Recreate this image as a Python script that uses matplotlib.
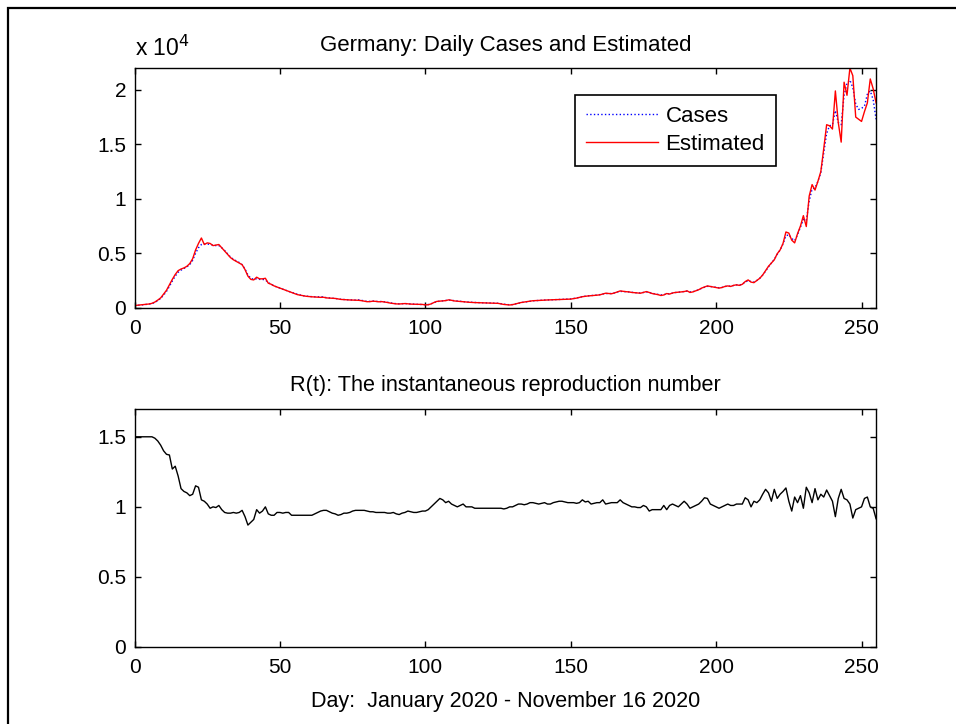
import matplotlib
matplotlib.use('Agg')
import matplotlib.pyplot as plt
from matplotlib.patches import Rectangle
import numpy as np

plt.rcParams['font.family'] = ['Liberation Sans', 'DejaVu Sans']
plt.rcParams['font.size'] = 15

# daily estimates (model output), day 0..255
estimated = [
    200, 230, 260, 290, 310, 340, 400, 520, 700, 900,
    1250, 1600, 2100, 2600, 3050, 3400, 3550, 3650, 3800, 4050,
    4500, 5300, 5900, 6400, 5800, 5950, 5900, 5700, 5750, 5800,
    5500, 5200, 4900, 4600, 4400, 4250, 4100, 3950, 3500, 2900,
    2600, 2550, 2800, 2650, 2650, 2700, 2250, 2150, 2000, 1900,
    1800, 1700, 1600, 1500, 1400, 1300, 1200, 1150, 1100, 1050,
    1020, 1000, 980, 960, 950, 960, 900, 880, 870, 850,
    800, 760, 740, 720, 710, 700, 690, 680, 650, 600,
    550, 560, 600, 580, 540, 560, 520, 480, 420, 380,
    350, 340, 360, 380, 350, 330, 320, 300, 290, 300,
    260, 270, 350, 480, 580, 600, 620, 650, 720, 680,
    620, 600, 580, 550, 520, 500, 480, 470, 460, 450,
    440, 430, 420, 420, 410, 400, 350, 300, 270, 250,
    280, 350, 420, 480, 520, 550, 600, 640, 650, 660,
    680, 700, 710, 720, 720, 730, 740, 750, 770, 780,
    790, 830, 880, 950, 1010, 1050, 1080, 1100, 1120, 1150,
    1180, 1250, 1330, 1300, 1280, 1350, 1450, 1540, 1500, 1470,
    1450, 1400, 1380, 1350, 1330, 1400, 1480, 1400, 1300, 1250,
    1200, 1120, 1170, 1300, 1250, 1350, 1400, 1420, 1450, 1480,
    1550, 1400, 1450, 1550, 1650, 1800, 1900, 2000, 1950, 1900,
    1850, 1800, 1850, 1950, 2000, 1950, 2050, 2100, 2050, 2150,
    2400, 2550, 2350, 2300, 2500, 2700, 3000, 3400, 3800, 4100,
    4400, 4950, 5300, 5900, 6950, 6850, 6200, 5950, 6800, 7500,
    8450, 7450, 10250, 11300, 10800, 11600, 12500, 14600, 16800, 16700,
    16400, 19900, 17000, 15200, 20700, 19500, 22000, 21300, 17500, 17300,
    17100, 18000, 18800, 21000, 20100, 18800,
]

# reported daily cases
cases = [
    180, 210, 240, 270, 300, 330, 380, 480, 650, 850,
    1150, 1500, 1950, 2450, 2900, 3250, 3450, 3600, 3750, 3950,
    4350, 5000, 5500, 5800, 5850, 5850, 5800, 5750, 5700, 5700,
    5500, 5250, 4950, 4650, 4450, 4300, 4150, 3950, 3550, 3000,
    2700, 2600, 2650, 2600, 2600, 2550, 2300, 2150, 2000, 1900,
    1800, 1700, 1600, 1500, 1420, 1320, 1230, 1160, 1100, 1060,
    1030, 1020, 1000, 990, 1020, 980, 920, 890, 870, 850,
    810, 770, 750, 730, 720, 710, 700, 720, 680, 620,
    570, 580, 610, 590, 560, 570, 540, 490, 440, 400,
    370, 360, 370, 380, 360, 340, 330, 310, 300, 300,
    280, 290, 360, 470, 560, 600, 630, 660, 700, 690,
    640, 610, 590, 560, 530, 510, 490, 480, 470, 460,
    450, 440, 430, 425, 415, 405, 370, 320, 290, 270,
    290, 350, 410, 470, 510, 550, 590, 630, 650, 660,
    680, 700, 710, 720, 725, 735, 745, 755, 770, 780,
    800, 840, 890, 960, 1020, 1060, 1090, 1110, 1130, 1160,
    1200, 1260, 1300, 1300, 1300, 1360, 1440, 1500, 1490, 1470,
    1450, 1410, 1380, 1360, 1350, 1390, 1440, 1400, 1320, 1270,
    1220, 1170, 1190, 1280, 1280, 1340, 1390, 1420, 1450, 1490,
    1520, 1450, 1470, 1550, 1650, 1780, 1880, 1960, 1950, 1910,
    1870, 1830, 1860, 1940, 1990, 1970, 2040, 2090, 2080, 2160,
    2350, 2480, 2400, 2350, 2500, 2700, 3000, 3350, 3750, 4100,
    4450, 4900, 5300, 5850, 6600, 6700, 6350, 6150, 6700, 7400,
    8100, 8000, 9800, 10900, 11000, 11600, 12400, 14200, 16000, 16700,
    16800, 18100, 17000, 16800, 19500, 20600, 20900, 20200, 18700, 18200,
    18300, 18500, 19600, 19900, 19100, 17300,
]

# instantaneous reproduction number R(t)
rt = [
    1.50, 1.50, 1.50, 1.50, 1.50, 1.50, 1.50, 1.49, 1.47, 1.44,
    1.40, 1.375, 1.37, 1.27, 1.29, 1.22, 1.13, 1.11, 1.10, 1.08,
    1.09, 1.15, 1.14, 1.05, 1.04, 1.02, 0.99, 1.00, 0.995, 1.01,
    0.98, 0.96, 0.955, 0.955, 0.96, 0.955, 0.96, 0.975, 0.93, 0.87,
    0.89, 0.91, 0.98, 0.955, 0.97, 1.00, 0.95, 0.94, 0.94, 0.96,
    0.96, 0.955, 0.96, 0.96, 0.94, 0.94, 0.94, 0.94, 0.94, 0.94,
    0.94, 0.94, 0.95, 0.96, 0.97, 0.975, 0.975, 0.965, 0.955, 0.95,
    0.94, 0.945, 0.955, 0.955, 0.96, 0.97, 0.975, 0.975, 0.975, 0.975,
    0.97, 0.965, 0.965, 0.96, 0.96, 0.96, 0.96, 0.955, 0.955, 0.96,
    0.95, 0.945, 0.955, 0.96, 0.97, 0.965, 0.96, 0.96, 0.965, 0.97,
    0.97, 0.98, 1.00, 1.02, 1.04, 1.06, 1.05, 1.03, 1.04, 1.02,
    1.01, 1.00, 1.01, 1.02, 1.00, 1.00, 1.00, 0.99, 0.99, 0.99,
    0.99, 0.99, 0.99, 0.99, 0.99, 0.99, 0.99, 0.985, 0.99, 1.00,
    1.00, 1.01, 1.02, 1.02, 1.015, 1.02, 1.03, 1.03, 1.025, 1.02,
    1.025, 1.03, 1.02, 1.02, 1.03, 1.035, 1.04, 1.04, 1.035, 1.03,
    1.03, 1.03, 1.025, 1.03, 1.05, 1.035, 1.04, 1.02, 1.025, 1.03,
    1.03, 1.05, 1.02, 1.025, 1.03, 1.03, 1.03, 1.05, 1.03, 1.02,
    1.01, 1.00, 1.00, 0.995, 0.995, 1.01, 1.00, 0.97, 0.98, 0.98,
    0.98, 0.98, 1.01, 0.98, 1.01, 1.02, 1.01, 1.00, 1.02, 1.04,
    1.02, 0.99, 1.00, 1.01, 1.02, 1.04, 1.065, 1.06, 1.02, 1.01,
    1.00, 0.99, 1.00, 1.01, 1.02, 1.01, 1.01, 1.02, 1.02, 1.02,
    1.065, 1.05, 1.00, 1.04, 1.03, 1.05, 1.09, 1.125, 1.10, 1.04,
    1.125, 1.06, 1.09, 1.11, 1.135, 1.04, 0.97, 1.07, 1.03, 1.08,
    0.99, 1.14, 1.10, 1.03, 1.13, 1.05, 1.09, 1.07, 1.12, 1.08,
    1.04, 0.93, 1.06, 1.125, 1.06, 1.05, 1.02, 0.92, 0.98, 0.99,
    1.00, 1.06, 1.07, 1.00, 0.99, 0.915,
]

days = np.arange(len(cases))

top_yticks = [0, 5000, 10000, 15000, 20000]
top_yticklabels = ['0', '0.5', '1', '1.5', '2']
bottom_yticks = [0, 0.5, 1, 1.5]
bottom_yticklabels = ['0', '0.5', '1', '1.5']
xticks = [0, 50, 100, 150, 200, 250]

fig = plt.figure(figsize=(9.56, 7.24), dpi=100)
ax1 = fig.add_axes([0.1407, 0.575, 0.7757, 0.331])
ax2 = fig.add_axes([0.1407, 0.1064, 0.7757, 0.329])

# frame around the whole figure
fig.patches.append(Rectangle((8 / 956, -0.2), 1.2, 1.2 - 8 / 724,
                             transform=fig.transFigure, fill=False,
                             edgecolor='black', linewidth=1.6))

ax1.plot(days, cases, color='blue', linestyle=':', linewidth=1.0, label='Cases')
ax1.plot(days, estimated, color='red', linestyle='-', linewidth=1.0, label='Estimated')
ax1.set_xlim(0, 255)
ax1.set_ylim(0, 22000)
ax1.set_yticks(top_yticks)
ax1.set_yticklabels(top_yticklabels)
ax1.set_title('Germany: Daily Cases and Estimated', pad=12.5, fontsize=16)
ax1.annotate('x 10$^4$', xy=(0, 1), xycoords='axes fraction', xytext=(0, 9),
             textcoords='offset points', ha='left', va='baseline', fontsize=16.5)
leg = ax1.legend(loc='upper left', bbox_to_anchor=(0.594, 0.887), fancybox=False,
                 framealpha=1, edgecolor='black', fontsize=16, handlelength=3.25,
                 handletextpad=0.32, labelspacing=0.3, borderpad=0.5,
                 borderaxespad=0)
leg.get_frame().set_linewidth(1.2)

ax2.plot(days, rt, color='black', linewidth=1.0)
ax2.set_xlim(0, 255)
ax2.set_ylim(0, 1.7)
ax2.set_yticks(bottom_yticks)
ax2.set_yticklabels(bottom_yticklabels)
ax2.set_title('R(t): The instantaneous reproduction number', pad=12.5, fontsize=15.6)
ax2.set_xlabel('Day:  January 2020 - November 16 2020', labelpad=10, fontsize=15.5)

for ax in (ax1, ax2):
    ax.set_xticks(xticks)
    ax.tick_params(direction='in', top=True, right=True, length=4, width=1.0)
    ax.tick_params(axis='x', pad=8)
    ax.tick_params(axis='y', pad=6)
    for s in ax.spines.values():
        s.set_linewidth(1.0)

plt.savefig('out.png', dpi=100)
